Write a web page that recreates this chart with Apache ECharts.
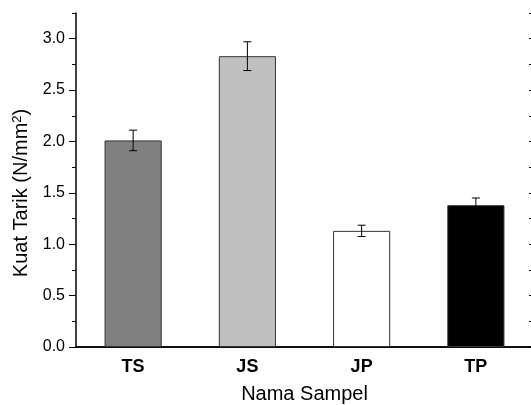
<!DOCTYPE html>
<html>
<head>
<meta charset="utf-8">
<script src="https://cdn.jsdelivr.net/npm/echarts@6/dist/echarts.min.js"></script>
<style>
  html, body { margin: 0; padding: 0; background: #fff; overflow: hidden; }
  /* the plot frame runs past the right edge of the picture, so the canvas is a bit wider than the window */
  #chart { width: 545px; height: 405px; }
</style>
</head>
<body>
<div id="chart"></div>
<script>
// sample names and measured tensile strength
const samples = ["TS", "JS", "JP", "TP"];
const strength = [2.01, 2.83, 1.13, 1.38];
const strengthErr = [0.10, 0.14, 0.055, 0.07];
const barColors = ["#808080", "#c0c0c0", "#ffffff", "#000000"];

const font = "'Liberation Sans', Arial, sans-serif";

const chart = echarts.init(document.getElementById("chart"));

const yBase = { type: "value", min: 0, max: 3.25, splitLine: { show: false } };

const option = {
  animation: false,
  textStyle: { fontFamily: font },
  grid: { left: 76, top: 13, bottom: 58, width: 457, containLabel: false, outerBoundsMode: "none" },
  xAxis: [
    {
      type: "category",
      data: samples,
      position: "bottom",
      axisLine: { lineStyle: { color: "#000", width: 1.5 } },
      axisTick: { alignWithLabel: true, length: 6, lineStyle: { color: "#000", width: 1 } },
      axisLabel: { color: "#000", fontSize: 18, fontWeight: "bold", margin: 11, fontFamily: font },
      name: "Nama Sampel",
      nameLocation: "middle",
      nameGap: 37,
      nameTextStyle: { color: "#000", fontSize: 20, fontFamily: font },
    },
    {
      // short ticks between categories
      type: "category",
      data: samples,
      position: "bottom",
      axisLine: { show: false },
      axisTick: { length: 3, lineStyle: { color: "#000", width: 1 } },
      axisLabel: { show: false },
    },
    {
      type: "category",
      data: samples,
      position: "top",
      axisLine: { lineStyle: { color: "#000", width: 1.5 } },
      axisTick: { inside: true, length: 4, lineStyle: { color: "#000", width: 1 } },
      axisLabel: { show: false },
    },
  ],
  yAxis: [
    {
      ...yBase,
      interval: 0.5,
      position: "left",
      axisLine: { show: true, lineStyle: { color: "#000", width: 1.5 } },
      axisTick: { show: true, length: 7, lineStyle: { color: "#000", width: 1 } },
      axisLabel: {
        color: "#000",
        fontSize: 16,
        margin: 11,
        fontFamily: font,
        showMaxLabel: false,
        formatter: (v) => (v > 3.0 ? "" : v.toFixed(1)),
      },
      name: "{a|Kuat Tarik (N/mm}{b|2}{a|)}",
      nameLocation: "middle",
      nameGap: 33,
      nameRotate: 90,
      nameTextStyle: {
        color: "#000",
        fontFamily: font,
        padding: [0, 26, 0, 0],
        rich: {
          a: { fontSize: 20, lineHeight: 22, color: "#000", fontFamily: font },
          b: { fontSize: 13, lineHeight: 22, verticalAlign: "top", color: "#000", fontFamily: font },
        },
      },
    },
    {
      // minor ticks on the left
      ...yBase,
      interval: 0.25,
      position: "left",
      axisLine: { show: false },
      axisTick: { show: true, length: 4, lineStyle: { color: "#000", width: 1 } },
      axisLabel: { show: false },
    },
    {
      // right frame edge is outside the picture, only its inner ticks show
      ...yBase,
      interval: 0.25,
      position: "right",
      axisLine: { show: false },
      axisTick: { show: true, inside: true, length: 4, lineStyle: { color: "#000", width: 1 } },
      axisLabel: { show: false },
    },
  ],
  series: [
    {
      type: "bar",
      xAxisIndex: 0,
      yAxisIndex: 0,
      barWidth: "50%",
      data: strength.map((v, i) => ({
        value: v,
        itemStyle: { color: barColors[i], borderColor: "#333", borderWidth: 1 },
      })),
      z: 2,
    },
    {
      type: "custom",
      xAxisIndex: 0,
      yAxisIndex: 0,
      z: 5,
      data: strength.map((v, i) => [i, v - strengthErr[i], v + strengthErr[i]]),
      renderItem: (params, api) => {
        const lo = api.coord([api.value(0), api.value(1)]);
        const hi = api.coord([api.value(0), api.value(2)]);
        const cap = 4;
        const style = { stroke: "#000", lineWidth: 1 };
        return {
          type: "group",
          children: [
            { type: "line", shape: { x1: lo[0], y1: lo[1], x2: hi[0], y2: hi[1] }, style },
            { type: "line", shape: { x1: hi[0] - cap, y1: hi[1], x2: hi[0] + cap, y2: hi[1] }, style },
            { type: "line", shape: { x1: lo[0] - cap, y1: lo[1], x2: lo[0] + cap, y2: lo[1] }, style },
          ],
        };
      },
    },
  ],
};

chart.setOption(option);
</script>
</body>
</html>
